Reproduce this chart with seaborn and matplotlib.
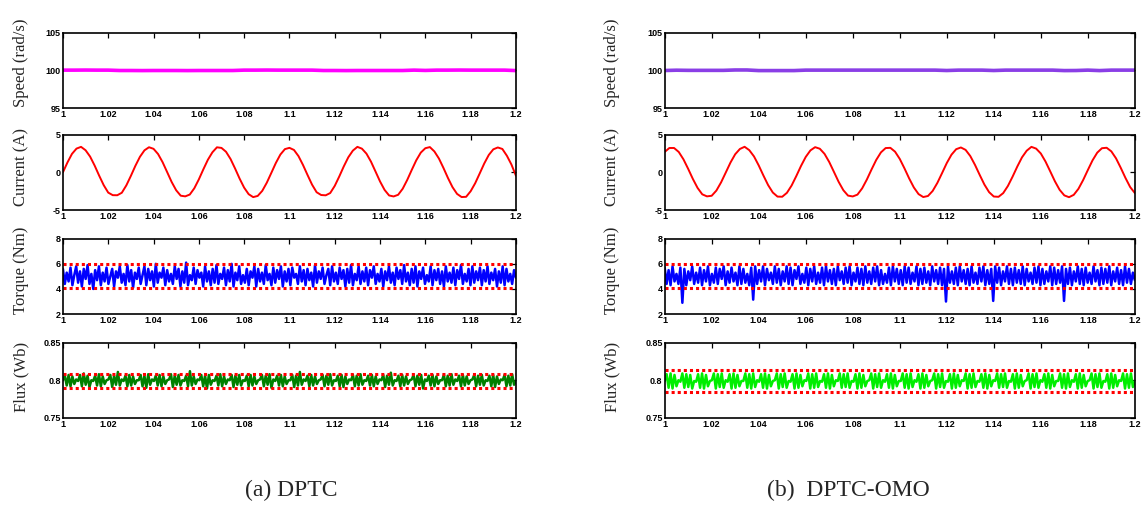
import matplotlib
matplotlib.use("Agg")
import matplotlib.pyplot as plt
import numpy as np
import seaborn as sns

# --- data ---
x_ticks = [1.0, 1.02, 1.04, 1.06, 1.08, 1.1, 1.12, 1.14, 1.16, 1.18, 1.2]
x_tick_labels = ["1", "1.02", "1.04", "1.06", "1.08", "1.1", "1.12", "1.14", "1.16", "1.18", "1.2"]

panel_labels = ["Speed (rad/s)", "Current (A)", "Torque (Nm)", "Flux (Wb)"]
y_limits = [(95, 105), (-5, 5), (2, 8), (0.75, 0.85)]
y_ticks = [[95, 100, 105], [-5, 0, 5], [2, 4, 6, 8], [0.75, 0.8, 0.85]]
y_tick_labels = [["95", "100", "105"], ["-5", "0", "5"], ["2", "4", "6", "8"], ["0.75", "0.8", "0.85"]]
captions = ["(a) DPTC", "(b)  DPTC-OMO"]

# speed, sampled every 5 ms
speed_a = [100.03, 100.03, 100.04, 100.03, 100.03, 99.98, 99.98, 99.97, 99.98, 99.98,
           99.98, 99.97, 99.98, 99.98, 99.98, 99.98, 100.03, 100.03, 100.04, 100.03,
           100.03, 100.03, 100.03, 99.98, 99.98, 99.97, 99.98, 99.98, 99.98, 99.98,
           99.98, 100.03, 99.99, 100.03, 100.03, 100.04, 100.03, 100.03, 100.03, 100.03,
           99.97]
speed_b = [99.98, 100.02, 100.0, 100.0, 100.0, 100.0, 100.05, 100.05, 99.97, 99.97,
           99.97, 99.97, 100.03, 100.03, 100.03, 100.03, 100.03, 100.03, 100.03, 100.03,
           100.03, 100.03, 100.03, 100.03, 99.98, 100.03, 100.03, 100.03, 99.98, 100.03,
           100.03, 100.03, 100.03, 100.03, 99.97, 99.98, 100.03, 99.97, 100.03, 100.03,
           100.03]

# phase current, sampled every 2 ms
current_a = [0.0, 1.31, 2.45, 3.15, 3.38, 2.93, 2.09, 0.90, -0.44, -1.70,
             -2.69, -3.03, -3.04, -2.71, -1.73, -0.47, 0.87, 2.06, 2.92, 3.33,
             3.12, 2.43, 1.35, 0.04, -1.28, -2.38, -3.10, -3.19, -2.95, -2.12,
             -0.94, 0.40, 1.67, 2.66, 3.32, 3.24, 2.73, 1.77, 0.51, -0.83,
             -2.03, -2.90, -3.29, -3.13, -2.46, -1.38, -0.08, 1.24, 2.36, 3.08,
             3.25, 2.97, 2.15, 0.97, -0.36, -1.64, -2.64, -3.01, -3.05, -2.75,
             -1.80, -0.55, 0.79, 2.00, 2.88, 3.38, 3.14, 2.48, 1.42, 0.11,
             -1.21, -2.33, -3.07, -3.20, -2.98, -2.18, -1.01, 0.32, 1.60, 2.62,
             3.20, 3.35, 2.77, 1.83, 0.58, -0.76, -1.97, -2.86, -3.28, -3.25,
             -2.51, -1.45, -0.15, 1.17, 2.30, 3.05, 3.30, 3.10, 2.20, 1.04,
             -0.45]
current_b = [2.70, 3.23, 3.23, 2.70, 1.72, 0.46, -0.88, -2.07, -2.92, -3.19,
             -3.11, -2.42, -1.33, -0.02, 1.30, 2.40, 3.10, 3.39, 2.94, 2.11,
             0.92, -0.42, -1.69, -2.68, -3.22, -3.24, -2.72, -1.75, -0.49, 0.85,
             2.04, 2.91, 3.34, 3.13, 2.45, 1.37, 0.06, -1.26, -2.37, -3.09,
             -3.20, -2.96, -2.13, -0.96, 0.38, 1.65, 2.65, 3.22, 3.25, 2.74,
             1.78, 0.53, -0.81, -2.01, -2.89, -3.28, -3.14, -2.47, -1.40, -0.10,
             1.23, 2.34, 3.07, 3.30, 2.98, 2.16, 0.99, -0.34, -1.62, -2.63,
             -3.21, -3.25, -2.76, -1.81, -0.57, 0.77, 1.99, 2.87, 3.38, 3.15,
             2.50, 1.43, 0.13, -1.19, -2.32, -3.06, -3.30, -2.99, -2.19, -1.03,
             0.30, 1.59, 2.61, 3.20, 3.26, 2.78, 1.85, 0.60, -0.74, -1.95,
             -2.75]

# electromagnetic torque
torque_a = [5.6, 4.4, 5.3, 4.6, 5.7, 4.3, 5.1, 5.8, 4.5, 5.4, 4.2, 5.6, 4.8, 5.9, 4.4, 5.2, 4.0, 5.5, 4.7, 5.8,
            4.3, 5.3, 4.6, 5.7, 4.4, 5.0, 5.6, 4.2, 5.4, 4.9, 5.8, 4.5, 5.2, 4.3, 5.9, 4.6, 5.5, 4.1, 5.3, 4.8,
            5.7, 4.4, 5.1, 5.8, 4.3, 5.6, 4.7, 5.4, 4.2, 6.0, 4.5, 5.3, 4.9, 5.7, 4.3, 5.5, 4.6, 5.2, 4.4, 5.8,
            4.8, 5.6, 4.2, 5.4, 4.5, 6.1, 4.3, 5.1, 4.7, 5.7, 4.4, 5.5, 4.9, 5.3, 4.2, 5.8, 4.6, 5.4, 4.3, 5.6,
            4.5, 5.9, 4.4, 5.2, 4.8, 5.7, 4.3, 5.5, 4.6, 6.0, 4.2, 5.3, 4.7, 5.8, 4.4, 5.1, 4.5, 5.6, 4.3, 5.4,
            4.9, 5.8, 4.2, 5.6, 4.6, 5.3, 4.4, 5.9, 4.7, 5.2, 4.3, 5.7, 4.5, 5.5, 4.8, 5.8, 4.2, 5.4, 4.6, 5.6,
            4.3, 5.7, 4.9, 5.2, 4.4, 5.8, 4.6, 5.5, 4.3, 5.6, 4.7, 5.3, 4.2, 5.9, 4.5, 5.4, 4.8, 5.7, 4.4, 5.1,
            5.6, 4.3, 5.8, 4.6, 5.3, 4.4, 5.7, 4.8, 5.5, 4.2, 5.6, 4.5, 5.9, 4.3, 5.2, 4.7, 5.8, 4.4, 5.4, 4.6,
            5.7, 4.3, 5.5, 4.9, 5.8, 4.4, 5.2, 4.6, 5.6, 4.2, 5.4, 4.7, 5.8, 4.5, 5.3, 4.3, 5.7, 4.8, 5.5, 4.4,
            5.9, 4.6, 5.3, 4.3, 5.6, 4.5, 5.8, 4.2, 5.4, 4.8, 5.7, 4.4, 5.1, 4.6, 5.8, 4.3, 5.5, 4.7, 5.6, 4.4,
            5.4, 4.2, 5.8, 4.6, 5.3, 4.5, 5.7, 4.3, 5.5, 4.8, 5.9, 4.4, 5.2, 4.6, 5.6, 4.3, 5.8, 4.5, 5.4, 4.7,
            5.7, 4.3, 5.5, 4.6, 5.8, 4.4, 5.3, 4.7, 5.6, 4.2, 5.4, 4.5, 5.8, 4.3, 5.6, 4.6, 5.2, 4.4, 5.5, 4.9]
torque_b = [5.7, 4.4, 5.5, 4.3, 5.8, 4.6, 5.2, 4.4, 5.7, 2.9, 5.6, 4.3, 5.4, 4.7, 5.8, 4.4, 5.3, 4.5, 5.7, 4.3,
            5.5, 4.6, 5.8, 4.3, 5.2, 4.5, 5.7, 4.4, 5.6, 4.8, 5.8, 4.3, 5.4, 4.5, 5.7, 4.6, 5.3, 4.3, 5.8, 4.4,
            5.6, 4.5, 5.2, 4.3, 5.7, 3.15, 5.8, 4.4, 5.5, 4.6, 5.8, 4.3, 5.6, 4.7, 5.3, 4.4, 5.8, 4.5, 5.6, 4.3,
            5.4, 4.6, 5.8, 4.4, 5.7, 4.3, 5.5, 4.8, 5.8, 4.4, 5.2, 4.5, 5.7, 4.3, 5.6, 4.6, 5.8, 4.4, 5.3, 4.5,
            5.7, 4.3, 5.8, 4.6, 5.5, 4.4, 5.6, 4.3, 5.8, 4.7, 5.4, 4.4, 5.7, 4.5, 5.8, 4.3, 5.3, 4.6, 5.7, 4.4,
            5.6, 4.3, 5.8, 4.5, 5.4, 4.4, 5.7, 4.6, 5.8, 4.3, 5.5, 4.4, 5.2, 4.5, 5.7, 4.3, 5.8, 4.6, 5.6, 4.4,
            5.5, 4.3, 5.8, 4.5, 5.7, 4.4, 5.3, 4.6, 5.8, 4.3, 5.6, 4.4, 5.7, 4.5, 5.4, 4.3, 5.8, 4.6, 5.5, 4.4,
            5.7, 4.3, 5.6, 3.0, 5.8, 4.5, 5.4, 4.4, 5.7, 4.3, 5.8, 4.6, 5.5, 4.4, 5.6, 4.3, 5.8, 4.5, 5.3, 4.4,
            5.7, 4.6, 5.8, 4.3, 5.5, 4.4, 5.6, 3.05, 5.8, 4.5, 5.7, 4.3, 5.4, 4.6, 5.8, 4.4, 5.6, 4.3, 5.7, 4.5,
            5.5, 4.4, 5.8, 4.3, 5.6, 4.6, 5.3, 4.4, 5.7, 4.5, 5.8, 4.3, 5.6, 4.4, 5.4, 4.6, 5.8, 4.3, 5.7, 4.4,
            5.5, 4.5, 5.8, 3.05, 5.6, 4.4, 5.7, 4.3, 5.4, 4.6, 5.8, 4.4, 5.6, 4.3, 5.7, 4.5, 5.3, 4.4, 5.8, 4.6,
            5.5, 4.3, 5.7, 4.4, 5.6, 4.5, 5.8, 4.3, 5.4, 4.6, 5.7, 4.4, 5.5, 4.3, 5.8, 4.5, 5.6, 4.4, 5.3, 4.7]
torque_band_a = [4.1, 5.95]
torque_band_b = [4.05, 6.0]

# stator flux
flux_a = [0.800, 0.806, 0.793, 0.807, 0.792, 0.805, 0.795, 0.801, 0.799, 0.807, 0.792, 0.809, 0.794, 0.806, 0.791, 0.800, 0.799, 0.806, 0.793, 0.808,
          0.792, 0.805, 0.795, 0.800, 0.801, 0.807, 0.791, 0.806, 0.794, 0.811, 0.793, 0.801, 0.799, 0.806, 0.792, 0.807, 0.793, 0.805, 0.795, 0.800,
          0.800, 0.807, 0.792, 0.806, 0.790, 0.808, 0.794, 0.801, 0.799, 0.806, 0.793, 0.807, 0.792, 0.805, 0.795, 0.800, 0.801, 0.808, 0.791, 0.806,
          0.794, 0.807, 0.793, 0.800, 0.799, 0.806, 0.792, 0.812, 0.793, 0.805, 0.795, 0.801, 0.800, 0.807, 0.792, 0.806, 0.789, 0.807, 0.794, 0.800,
          0.799, 0.806, 0.793, 0.808, 0.792, 0.805, 0.795, 0.801, 0.800, 0.807, 0.791, 0.806, 0.794, 0.807, 0.793, 0.800, 0.799, 0.806, 0.792, 0.807,
          0.793, 0.805, 0.795, 0.800, 0.801, 0.807, 0.792, 0.806, 0.794, 0.808, 0.790, 0.801, 0.799, 0.806, 0.793, 0.807, 0.792, 0.805, 0.795, 0.800,
          0.800, 0.807, 0.791, 0.806, 0.793, 0.811, 0.794, 0.801, 0.799, 0.806, 0.792, 0.807, 0.793, 0.805, 0.795, 0.800, 0.801, 0.807, 0.792, 0.806,
          0.794, 0.808, 0.793, 0.800, 0.799, 0.806, 0.792, 0.807, 0.791, 0.805, 0.795, 0.801, 0.800, 0.807, 0.792, 0.806, 0.793, 0.808, 0.794, 0.800,
          0.799, 0.806, 0.793, 0.807, 0.792, 0.805, 0.795, 0.801, 0.800, 0.807, 0.791, 0.806, 0.794, 0.810, 0.793, 0.800, 0.799, 0.806, 0.792, 0.807,
          0.793, 0.805, 0.795, 0.800, 0.801, 0.807, 0.792, 0.806, 0.794, 0.807, 0.789, 0.801, 0.799, 0.806, 0.793, 0.807, 0.792, 0.805, 0.795, 0.800,
          0.800, 0.807, 0.792, 0.806, 0.793, 0.808, 0.794, 0.801, 0.799, 0.806, 0.792, 0.807, 0.793, 0.805, 0.795, 0.800, 0.801, 0.807, 0.792, 0.806,
          0.794, 0.807, 0.793, 0.800, 0.799, 0.806, 0.792, 0.807, 0.791, 0.805, 0.795, 0.801, 0.800, 0.807, 0.792, 0.806, 0.793, 0.808, 0.794, 0.799]
flux_b = [0.799, 0.808, 0.790, 0.809, 0.789, 0.807, 0.792, 0.800, 0.798, 0.809, 0.790, 0.808, 0.791, 0.807, 0.789, 0.799, 0.798, 0.808, 0.790, 0.809,
          0.789, 0.807, 0.792, 0.799, 0.800, 0.809, 0.789, 0.808, 0.791, 0.809, 0.790, 0.800, 0.798, 0.808, 0.789, 0.809, 0.790, 0.807, 0.792, 0.799,
          0.799, 0.809, 0.790, 0.808, 0.789, 0.809, 0.791, 0.800, 0.798, 0.808, 0.790, 0.809, 0.789, 0.807, 0.792, 0.799, 0.800, 0.809, 0.789, 0.808,
          0.791, 0.809, 0.790, 0.799, 0.798, 0.808, 0.789, 0.809, 0.790, 0.807, 0.792, 0.800, 0.799, 0.809, 0.789, 0.808, 0.790, 0.809, 0.791, 0.799,
          0.798, 0.808, 0.790, 0.809, 0.789, 0.807, 0.792, 0.800, 0.799, 0.809, 0.790, 0.808, 0.791, 0.809, 0.790, 0.799, 0.798, 0.808, 0.789, 0.809,
          0.790, 0.807, 0.792, 0.799, 0.800, 0.809, 0.789, 0.808, 0.791, 0.809, 0.790, 0.800, 0.798, 0.808, 0.790, 0.809, 0.789, 0.807, 0.792, 0.799,
          0.799, 0.809, 0.790, 0.808, 0.789, 0.809, 0.791, 0.800, 0.798, 0.808, 0.789, 0.809, 0.790, 0.807, 0.792, 0.799, 0.800, 0.809, 0.789, 0.808,
          0.791, 0.809, 0.790, 0.799, 0.798, 0.808, 0.789, 0.809, 0.790, 0.807, 0.792, 0.800, 0.799, 0.809, 0.789, 0.808, 0.790, 0.809, 0.791, 0.799,
          0.798, 0.808, 0.790, 0.809, 0.789, 0.807, 0.792, 0.800, 0.799, 0.809, 0.790, 0.808, 0.791, 0.809, 0.790, 0.799, 0.798, 0.808, 0.789, 0.809,
          0.790, 0.807, 0.792, 0.799, 0.800, 0.809, 0.789, 0.808, 0.791, 0.809, 0.790, 0.800, 0.798, 0.808, 0.790, 0.809, 0.789, 0.807, 0.792, 0.799,
          0.799, 0.809, 0.790, 0.808, 0.789, 0.809, 0.791, 0.800, 0.798, 0.808, 0.789, 0.809, 0.790, 0.807, 0.792, 0.799, 0.800, 0.809, 0.789, 0.808,
          0.791, 0.809, 0.790, 0.799, 0.798, 0.808, 0.789, 0.809, 0.790, 0.807, 0.792, 0.800, 0.799, 0.809, 0.789, 0.808, 0.790, 0.809, 0.791, 0.799]
flux_band_a = [0.790, 0.808]
flux_band_b = [0.785, 0.814]

series_a = [speed_a, current_a, torque_a, flux_a]
series_b = [speed_b, current_b, torque_b, flux_b]
bands_a = [None, None, torque_band_a, flux_band_a]
bands_b = [None, None, torque_band_b, flux_band_b]
colors_a = ["#ff00ff", "#ff0000", "#0000ff", "#008000"]
colors_b = ["#8a3ee6", "#ff0000", "#0000ff", "#00ee00"]
line_widths = [2.6, 1.4, 1.8, 1.8]

sns.set_style("white")
plt.rcParams["font.family"] = ["Liberation Sans", "DejaVu Sans"]

fig = plt.figure(figsize=(11.44, 5.27), dpi=100)

# axes placement in figure fractions
col_left = [0.055, 0.581]
col_width = [0.396, 0.411]
row_bottom = [0.795, 0.6015, 0.404, 0.207]
row_height = 0.143
label_x = [-0.075, -0.095]
label_y = [0.6, 0.57, 0.58, 0.55]


def draw_column(col, series, bands, colors):
    for r in range(4):
        ax = fig.add_axes([col_left[col], row_bottom[r], col_width[col], row_height])
        vals = series[r]
        t = np.linspace(1.0, 1.2, len(vals))
        sns.lineplot(x=t, y=vals, ax=ax, color=colors[r], linewidth=line_widths[r])
        if bands[r] is not None:
            for b in bands[r]:
                ax.axhline(b, color="#ff0000", linewidth=2.2, linestyle=(0, (1, 1)))
        ax.set_xlim(1.0, 1.2)
        ax.set_ylim(*y_limits[r])
        ax.set_xticks(x_ticks)
        ax.set_xticklabels(x_tick_labels)
        ax.set_yticks(y_ticks[r])
        ax.set_yticklabels(y_tick_labels[r])
        ax.tick_params(direction="in", top=True, right=True, length=3.5, width=0.9,
                       labelsize=6.5, pad=1.5, colors="black")
        for lab in ax.get_xticklabels() + ax.get_yticklabels():
            lab.set_fontweight("bold")
        for sp in ax.spines.values():
            sp.set_visible(True)
            sp.set_color("black")
            sp.set_linewidth(1.2)
        ax.set_ylabel(panel_labels[r], family="Liberation Serif", fontsize=12)
        ax.yaxis.set_label_coords(label_x[col], label_y[r])
        ax.set_xlabel("")


draw_column(0, series_a, bands_a, colors_a)
draw_column(1, series_b, bands_b, colors_b)

fig.text(0.255, 0.07, captions[0], family="Liberation Serif", fontsize=17, ha="center", va="center")
fig.text(0.742, 0.07, captions[1], family="Liberation Serif", fontsize=17, ha="center", va="center")

fig.savefig("out.png", dpi=100)
